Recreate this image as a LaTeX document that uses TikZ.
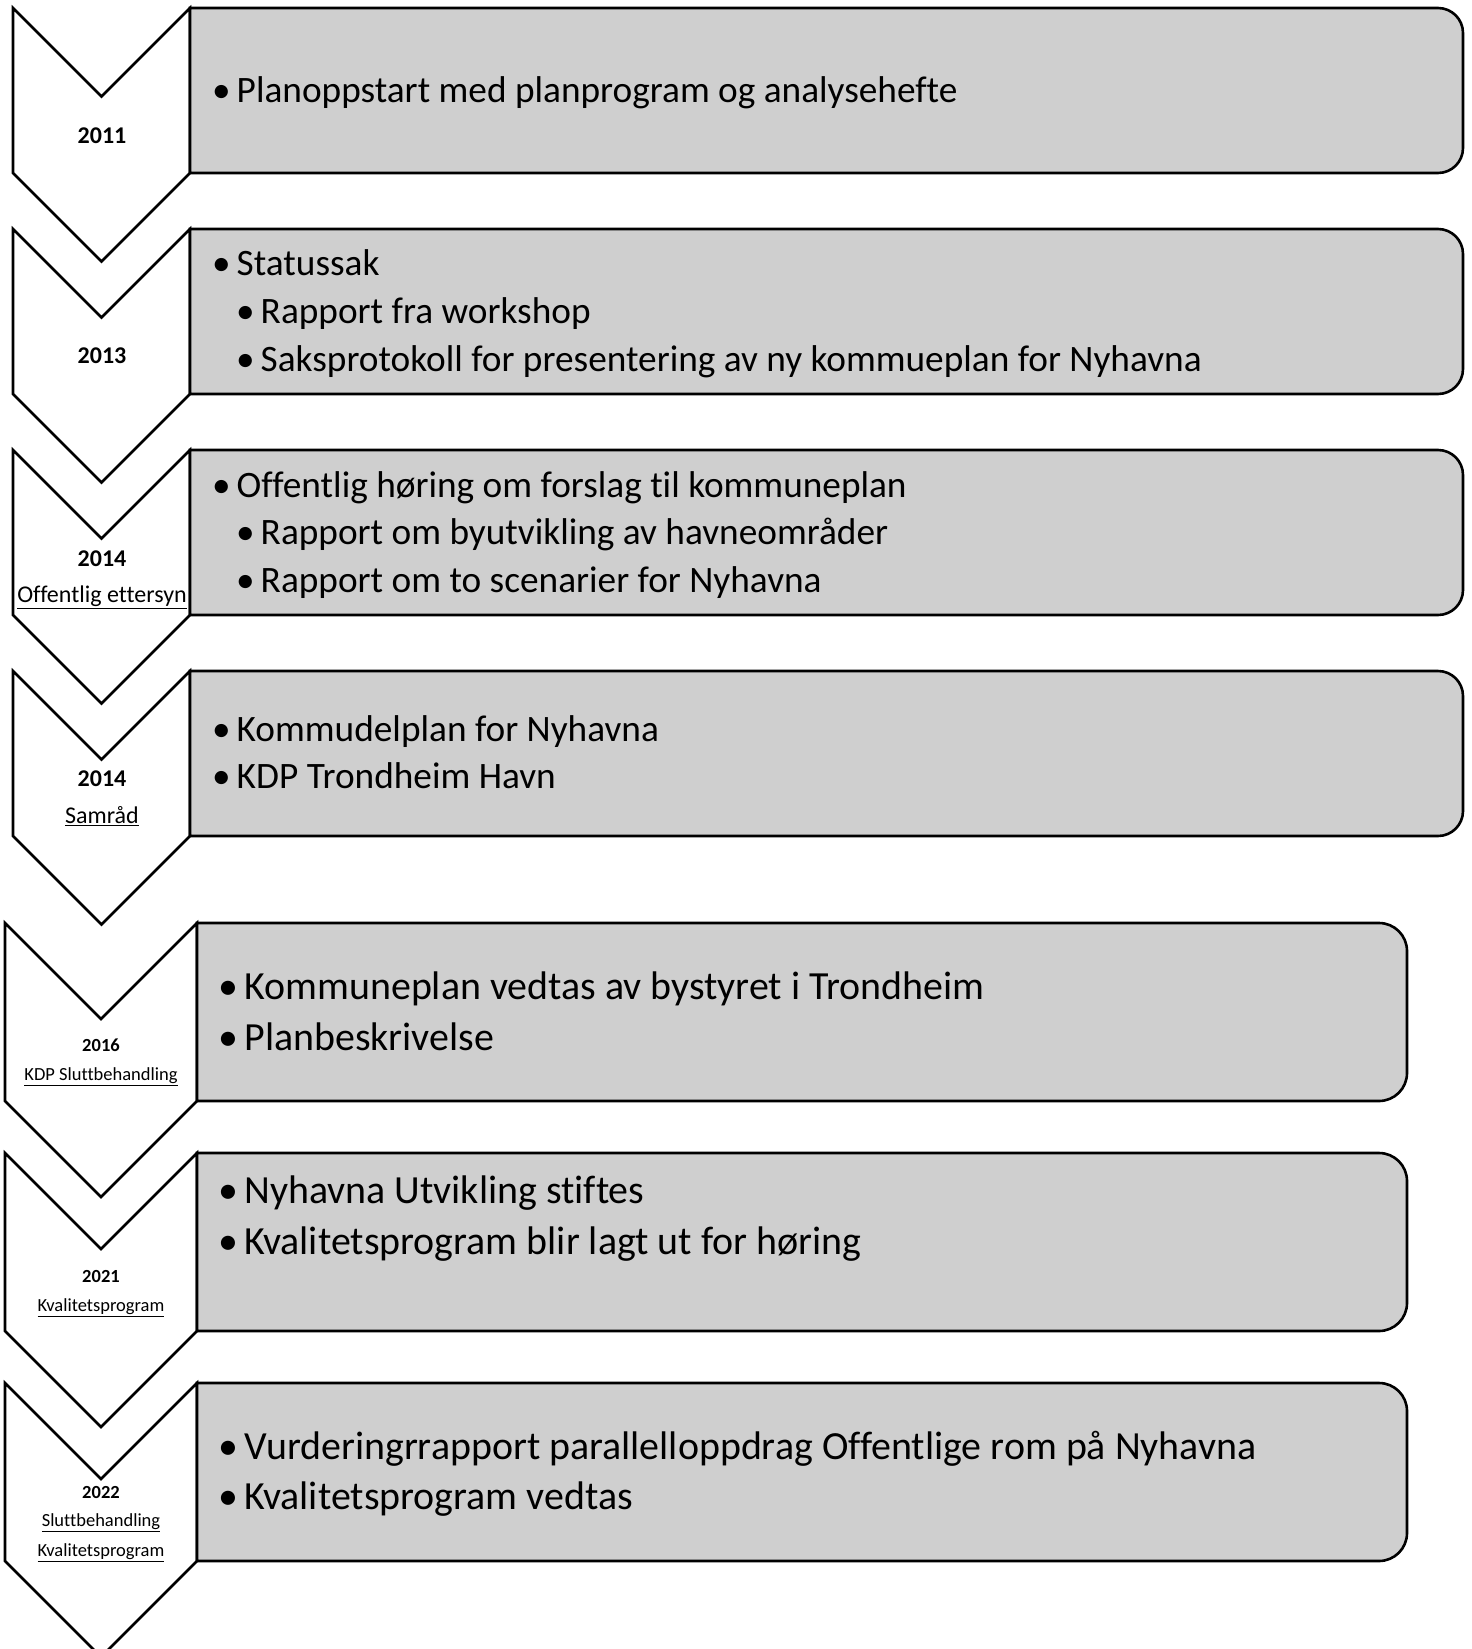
\documentclass[tikz,border=0pt]{standalone}
\usepackage{fontspec}
\setmainfont{Carlito}[Ligatures=NoCommon]
\definecolor{tlgray}{HTML}{CFCFCF}
\tikzset{
  chev/.style={draw=black,fill=white,line width=2.6pt},
  box/.style={draw=black,fill=tlgray,line width=2.6pt},
  yra/.style={font=\fontsize{24}{28}\selectfont\bfseries,anchor=mid,inner sep=0pt},
  lba/.style={font=\fontsize{24}{28}\selectfont,anchor=mid,inner sep=0pt},
  yrb/.style={font=\fontsize{18.5}{22}\selectfont\bfseries,anchor=mid,inner sep=0pt},
  lbb/.style={font=\fontsize{18.5}{22}\selectfont,anchor=mid,inner sep=0pt},
  ita/.style={font=\fontsize{37.3}{44}\selectfont,anchor=mid west,inner sep=0pt},
  itb/.style={font=\fontsize{39.9}{47}\selectfont,anchor=mid west,inner sep=0pt},
}
\begin{document}
\begin{tikzpicture}[x=1pt,y=1pt]
  \clip (0,0) rectangle (1472,-1649);
  \fill[white] (0,0) rectangle (1472,-1649);
  % upper steps
  \foreach \yt in {8,229,450,671} {
    \draw[chev] (13,-\yt) -- (101.5,-\yt-88.5) -- (190,-\yt) -- (190,-\yt-165)
      -- (101.5,-\yt-253.5) -- (13,-\yt-165) -- cycle;
    \draw[box] (190,-\yt) -- (1438,-\yt) arc[start angle=90,end angle=0,radius=25pt]
      -- (1463,-\yt-140) arc[start angle=0,end angle=-90,radius=25pt] -- (190,-\yt-165) -- cycle;
  }
  % lower steps
  \foreach \yt in {923,1153,1383} {
    \draw[chev] (5,-\yt) -- (101,-\yt-96) -- (197,-\yt) -- (197,-\yt-178)
      -- (101,-\yt-274) -- (5,-\yt-178) -- cycle;
    \draw[box] (197,-\yt) -- (1379,-\yt) arc[start angle=90,end angle=0,radius=28pt]
      -- (1407,-\yt-150) arc[start angle=0,end angle=-90,radius=28pt] -- (197,-\yt-178) -- cycle;
  }
  % years and phases
  \foreach \yy/\t [count=\ix] in {141/2011,361/2013,564/2014,784/2014}
    \node[yra] (yra\ix) at (102,-\yy) {\t};
  \node[lba] (ph1) at (102,-600) {\underline{Offentlig ettersyn}};
  \node[lba] (ph2) at (102,-821) {\underline{Samråd}};
  \foreach \yy/\t [count=\ix] in {1049/2016,1280/2021,1496/2022}
    \node[yrb] (yrb\ix) at (101,-\yy) {\t};
  \node[lbb] (ph3) at (101,-1078) {\underline{KDP Sluttbehandling}};
  \node[lbb] (ph4) at (101,-1309) {\underline{Kvalitetsprogram}};
  \node[lbb] (ph5) at (101,-1524) {\underline{Sluttbehandling}};
  \node[lbb] (ph6) at (101,-1554) {\underline{Kvalitetsprogram}};
  % bullet lines
  \foreach \xx/\yy/\t [count=\ix] in {
    212/100/Planoppstart med planprogram og analysehefte,
    212/273/Statussak,
    236/321/Rapport fra workshop,
    236/369/Saksprotokoll for presentering av ny kommueplan for Nyhavna,
    212/495/Offentlig høring om forslag til kommuneplan,
    236/542/Rapport om byutvikling av havneområder,
    236/590/Rapport om to scenarier for Nyhavna,
    212/739/Kommudelplan for Nyhavna,
    212/786/KDP Trondheim Havn}
    \node[ita] (ln\ix) at (\xx,-\yy) {\textbullet\hspace{0.16em}\t};
  \foreach \yy/\t [count=\ix] in {
    997/Kommuneplan vedtas av bystyret i Trondheim,
    1048/Planbeskrivelse,
    1201/Nyhavna Utvikling stiftes,
    1252/Kvalitetsprogram blir lagt ut for høring,
    1457/Vurderingrrapport parallelloppdrag Offentlige rom på Nyhavna,
    1507/Kvalitetsprogram vedtas}
    \node[itb] (lm\ix) at (218,-\yy) {\textbullet\hspace{0.16em}\t};
\end{tikzpicture}
\end{document}
